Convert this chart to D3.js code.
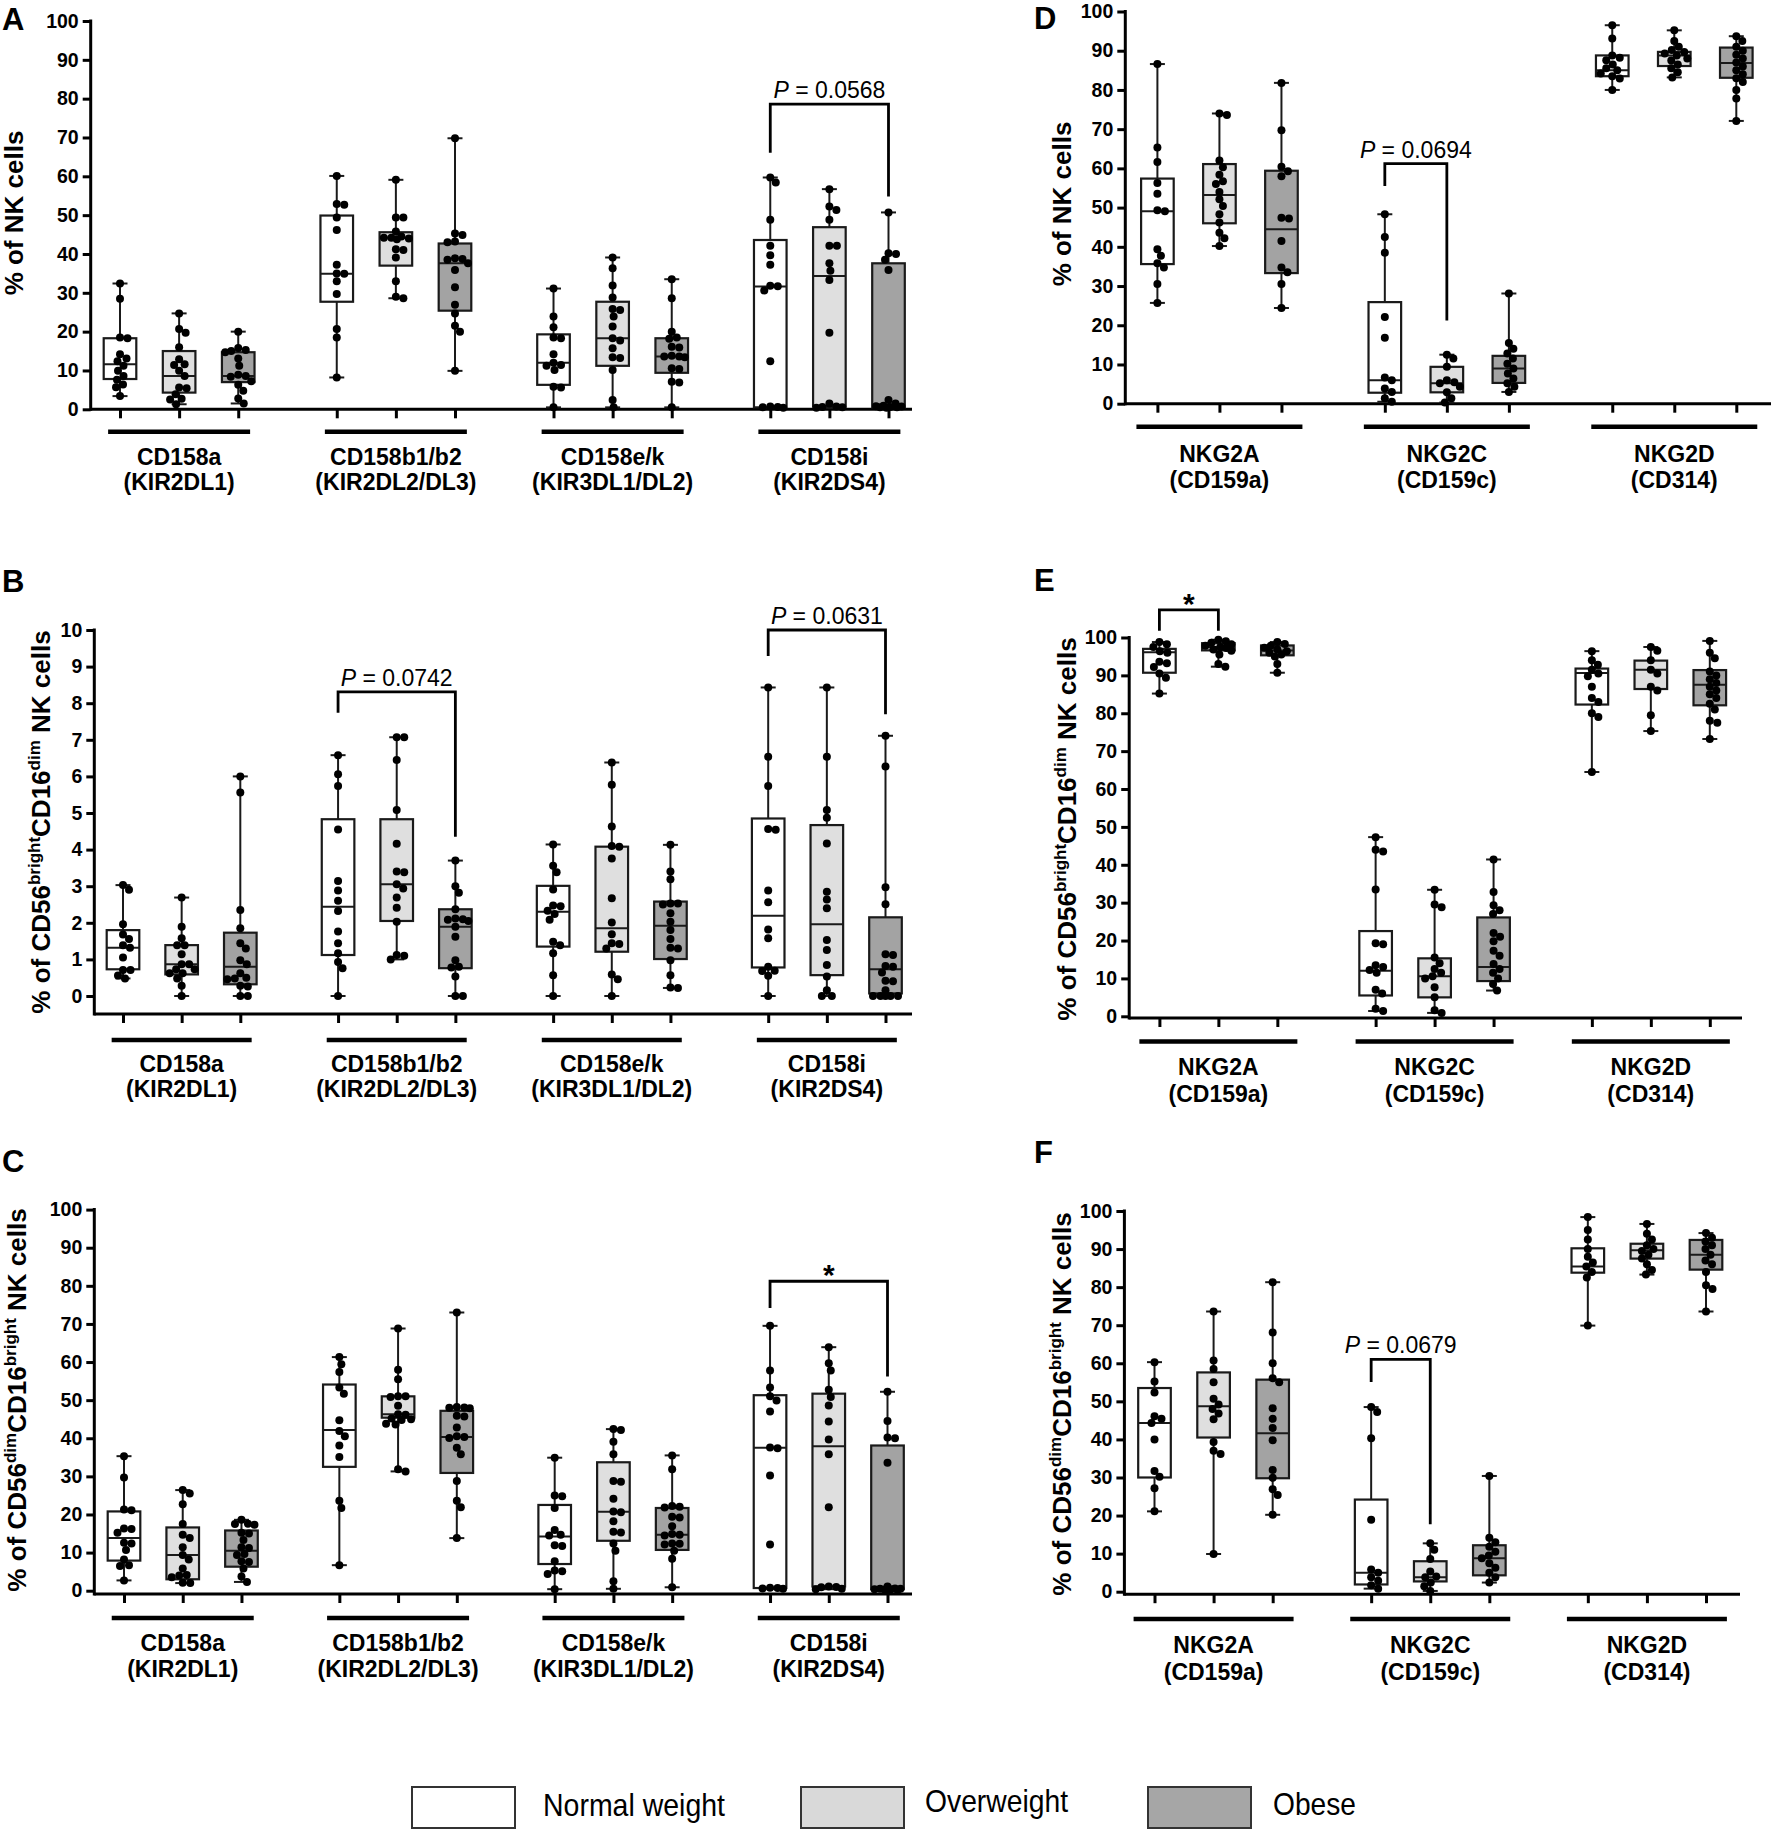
<!DOCTYPE html>
<html><head><meta charset="utf-8">
<script src="https://cdn.jsdelivr.net/npm/d3@7"></script>
<style>
body{margin:0;background:#fff}
svg{display:block}
text{font-family:"Liberation Sans",Arial,Helvetica,sans-serif}
</style></head><body>
<svg id="c" width="1773" height="1837"></svg>
<script>
// ---------------- DATA ----------------
const GROUPS = ["Normal weight", "Overweight", "Obese"];
const FILLS = ["#ffffff", "#dfdfdf", "#a3a3a3"];
const LEGEND_FILLS = ["#ffffff", "#d9d9d9", "#a6a6a6"];
const KIR_CATS = [["CD158a","(KIR2DL1)"],["CD158b1/b2","(KIR2DL2/DL3)"],["CD158e/k","(KIR3DL1/DL2)"],["CD158i","(KIR2DS4)"]];
const NKG_CATS = [["NKG2A","(CD159a)"],["NKG2C","(CD159c)"],["NKG2D","(CD314)"]];
const TICKS_100 = [0,10,20,30,40,50,60,70,80,90,100];
const TICKS_10 = [0,1,2,3,4,5,6,7,8,9,10];

// box quartiles [Q1, median, Q3], order: category x (normal, overweight, obese)
const A_q = [[7.8,11.6,18.3],[4.3,8.6,15.0],[7.0,8.6,14.7],
             [27.7,34.9,49.9],[37.0,44.2,45.6],[25.4,37.6,42.7],
             [6.3,12.0,19.3],[11.2,18.3,27.7],[9.4,13.6,18.3],
             [0.5,31.6,43.6],[0.7,34.3,46.9],[0.5,0.7,37.6]];
const A_pts = [
 [32.4,28.5,18.5,18.3,14.2,13.1,12.4,11.2,9.9,8.6,7.6,6.4,5.7,3.4],
 [24.7,20.7,19.7,16.0,12.9,11.6,11.4,9.9,8.6,5.6,5.4,3.9,2.7,2.5,1.3],
 [20.0,15.8,15.3,15.0,14.7,13.1,11.2,8.9,8.6,8.4,7.2,6.3,4.8,2.8,1.5],
 [60.1,52.9,52.7,49.4,46.2,37.2,35.0,34.9,33.0,29.7,20.7,18.5,8.2],
 [59.1,49.4,49.4,45.8,44.5,44.2,44.2,44.0,43.8,41.2,41.0,39.1,33.0,29.0,28.6],
 [69.8,45.3,44.9,43.2,43.0,38.9,38.7,38.5,37.6,35.9,31.4,26.9,24.7,21.5,20.0,9.9],
 [31.1,23.9,21.1,18.5,18.3,14.2,12.0,11.4,11.2,10.1,5.8,5.6,0.5],
 [39.1,36.3,31.9,28.8,25.8,25.6,23.9,21.3,18.3,17.7,15.7,13.4,13.2,10.1,2.4,0.5],
 [33.5,28.6,20.0,18.5,18.2,16.1,15.9,13.8,13.6,13.6,13.4,10.6,10.4,7.1,6.9,0.5],
 [59.7,58.4,48.8,42.1,39.7,37.2,31.8,31.7,30.6,12.4,0.7,0.6,0.5,0.4],
 [56.7,52.2,51.3,48.8,42.1,42.1,37.6,35.7,33.3,19.7,1.5,0.7,0.6,0.5,0.4],
 [50.7,40.2,40.0,38.5,35.9,2.4,1.5,0.9,0.8,0.7,0.6,0.5,0.5,0.4]];

const B_q = [[0.73,1.32,1.80],[0.59,0.87,1.39],[0.32,0.80,1.73],
             [1.12,2.44,4.83],[2.05,3.05,4.83],[0.76,1.89,2.37],
             [1.35,2.30,3.01],[1.21,1.85,4.08],[1.01,1.92,2.58],
             [0.78,2.19,4.85],[0.57,1.96,4.67],[0.07,0.73,2.15]];
const B_pts = [
 [3.03,2.9,1.96,1.68,1.56,1.39,1.32,1.05,0.71,0.71,0.56,0.48],
 [2.69,1.89,1.58,1.39,1.39,1.14,0.87,0.87,0.73,0.73,0.62,0.62,0.48,0.28,0],
 [6.0,5.56,2.35,1.85,1.44,1.30,0.98,0.87,0.62,0.50,0.48,0.46,0.28,0.26,0,0],
 [6.58,6.06,5.74,4.55,3.14,2.88,2.60,2.32,1.76,1.44,1.17,0.93,0.76,0],
 [7.07,7.07,6.45,5.08,4.16,3.40,3.38,3.05,2.94,2.69,2.41,2.03,1.12,1.10,1.0],
 [3.70,3.0,2.82,2.37,2.12,2.10,2.08,2.05,1.89,1.62,0.98,0.80,0.78,0.53,0,0],
 [4.14,3.56,3.38,2.91,2.47,2.45,2.33,2.24,2.08,1.48,1.39,1.17,0.57,0],
 [6.38,5.77,4.63,4.10,4.08,3.76,2.67,2.01,1.69,1.44,1.42,1.30,0.59,0.46,0],
 [4.13,3.40,3.19,2.53,2.53,2.50,2.26,2.03,1.80,1.56,1.32,1.30,0.98,0.57,0.23,0.22],
 [8.43,6.54,5.74,4.56,4.54,2.88,2.56,1.82,1.58,0.80,0.69,0.68,0.55,0],
 [8.43,6.54,5.08,4.87,4.17,2.85,2.64,2.40,1.53,1.26,0.85,0.53,0.16,0,0],
 [7.11,6.27,2.97,2.51,1.14,1.12,0.82,0.80,0.64,0.42,0.40,0.16,0,0,0,0,0]];

const C_q = [[7.9,13.8,20.8],[3.0,9.4,16.6],[6.3,10.5,15.8],
             [32.5,42.2,54.1],[45.4,46.3,51.0],[30.9,40.3,47.2],
             [7.0,14.2,22.5],[13.1,20.7,33.7],[10.7,14.7,21.7],
             [0.7,37.5,51.3],[1.1,37.9,51.7],[0.4,0.5,38.1]];
const C_pts = [
 [35.3,29.7,21.3,21.1,16.3,16.2,15.2,12.6,12.4,10.7,8.2,6.7,6.5,2.7],
 [26.4,25.5,22.7,17.5,14.7,13.8,11.4,9.4,8.2,5.8,4.1,4.0,3.5,2.1,2.0],
 [18.6,17.6,17.5,17.3,15.2,15.0,13.3,11.4,11.2,9.6,9.4,7.7,7.5,5.8,3.7,2.3],
 [61.3,59.4,57.4,53.3,51.7,44.7,41.9,40.5,38.1,35.1,23.6,21.7,6.7],
 [68.8,58.0,55.5,51.0,51.0,50.8,48.5,46.3,46.2,45.2,45.0,44.8,43.8,43.6,31.9,31.3],
 [73.0,48.2,48.1,48.0,47.9,45.9,45.7,42.8,40.5,40.3,40.1,37.5,35.8,28.8,23.6,21.9,13.8],
 [34.9,25.0,24.8,21.7,15.9,14.7,14.5,11.9,11.7,7.7,5.3,5.1,4.4,0.4],
 [42.4,42.2,39.1,35.8,28.8,28.6,24.1,20.8,20.6,18.2,15.5,15.3,12.4,10.5,2.5,0.5],
 [35.5,31.9,22.2,22.0,21.8,19.4,19.2,16.9,14.9,14.7,14.5,12.4,12.3,12.1,10.5,8.4,0.9],
 [69.5,57.8,53.3,51.0,49.9,47.0,37.6,37.4,30.2,12.1,0.8,0.7,0.6,0.5],
 [63.9,59.7,57.8,52.7,50.8,48.6,44.4,39.7,35.8,21.9,1.1,1.0,0.9,0.5,0.4],
 [52.2,44.5,40.2,40.0,33.6,1.1,0.6,0.5,0.5,0.4,0.4,0.3,0.3,0.2]];

const D_q = [[35.6,49.1,57.4],[46.0,53.2,61.1],[33.3,44.5,59.4],
             [2.8,6.0,25.9],[2.9,5.2,9.4],[5.3,9.0,12.2],
             [83.5,85.0,88.8],[86.1,88.8,89.7],[83.1,86.9,90.8]];
const D_pts = [
 [86.6,65.3,61.6,56.3,53.5,49.3,49.1,39.4,37.7,35.8,34.7,30.5,25.7],
 [74.0,73.6,62.0,60.3,58.4,56.7,56.0,54.0,52.1,50.4,48.3,46.2,43.6,42.2,40.2],
 [81.8,69.7,60.4,59.3,58.0,47.4,47.2,41.5,34.7,33.5,30.5,24.4],
 [48.3,42.5,38.5,22.1,16.8,6.7,6.0,3.9,3.0,1.4,0.5],
 [12.5,11.5,9.4,6.0,5.5,5.2,4.3,2.9,1.4,0.3],
 [28.1,15.5,14.0,12.8,11.5,10.2,9.0,7.7,6.4,5.2,4.3,3.0],
 [96.5,93.1,88.8,88.2,87.6,86.5,85.5,85.0,84.2,83.5,82.9,80.0],
 [95.2,92.5,91.0,90.2,89.7,89.3,88.8,88.0,87.5,86.5,85.5,84.5,83.2],
 [93.7,92.5,91.0,90.0,89.0,88.0,87.0,86.0,85.0,84.0,83.0,82.0,80.0,77.8,72.1]];

const E_q = [[90.7,96.1,97.0],[96.6,97.5,98.5],[95.3,96.6,97.9],
             [5.5,12.0,22.5],[5.0,10.6,15.3],[9.3,13.0,26.1],
             [82.3,90.6,91.8],[86.4,91.5,93.9],[82.1,87.5,91.4]];
const E_pts = [
 [98.8,98.2,97.5,96.4,96.0,93.6,93.2,92.2,90.5,89.4,85.2],
 [99.4,99.0,98.6,98.2,97.8,97.5,97.2,96.8,96.5,95.5,93.0,92.3],
 [98.8,98.3,97.8,97.3,96.8,96.4,96.0,95.5,95.0,93.0,90.7],
 [47.3,44.0,43.5,33.5,19.3,19.0,13.5,13.0,12.2,11.5,7.0,6.0,2.0,1.4],
 [33.4,29.5,28.8,15.5,14.0,12.5,11.5,10.6,10.0,7.7,5.0,1.6,0.9],
 [41.4,32.8,29.3,28.0,27.0,22.0,21.0,19.8,17.3,16.0,13.8,12.5,11.5,10.0,8.5,6.8],
 [96.4,94.0,92.8,91.5,90.5,89.8,87.0,84.0,83.0,80.0,79.0,64.5],
 [97.5,96.5,94.0,91.5,90.5,87.0,86.0,79.5,75.3],
 [99.1,96.0,94.5,91.0,90.0,89.0,88.0,87.0,86.0,85.0,84.0,82.5,81.0,78.0,77.5,73.2]];

const F_q = [[30.0,44.3,53.5],[40.5,48.7,57.6],[29.8,41.6,55.7],
             [1.9,5.0,24.2],[2.7,3.8,8.0],[4.3,8.8,12.2],
             [83.8,85.4,90.2],[87.5,89.7,91.4],[84.6,88.5,92.4]];
const F_pts = [
 [60.3,55.2,52.3,46.1,45.4,44.3,40.0,31.7,30.2,27.2,21.1],
 [73.6,60.7,58.5,55.0,50.7,49.2,48.0,46.8,45.3,39.3,37.0,36.2,9.9],
 [81.3,68.1,60.0,56.1,55.0,48.2,45.4,43.0,39.8,32.0,29.9,26.9,25.4,20.2],
 [48.5,47.2,40.3,18.9,5.8,5.0,3.8,2.9,1.7,0.8],
 [12.7,11.0,8.6,5.3,4.0,3.8,2.4,1.4,0.2],
 [30.4,14.2,13.0,11.8,10.5,9.5,8.8,7.5,6.3,5.0,3.8,2.4],
 [98.4,95.0,92.5,90.0,88.0,86.5,85.4,84.0,82.5,69.9],
 [96.6,94.0,92.5,91.0,90.0,89.5,88.5,87.5,86.0,84.5,83.3],
 [94.2,93.0,92.0,91.0,90.0,88.5,87.0,86.0,84.0,80.5,79.5,73.6]];

// significance brackets: category, from box, to box, bar level, left leg end, right leg end, label
const A_ann = [{g:3,i:0,j:2,line:78.6,l:66.1,r:54.8,p:"0.0568"}];
const B_ann = [{g:1,i:0,j:2,line:8.31,l:7.74,r:4.35,p:"0.0742"},{g:3,i:0,j:2,line:10.0,l:9.29,r:7.70,p:"0.0631"}];
const C_ann = [{g:3,i:0,j:2,line:81.2,l:74.2,r:56.2,star:true}];
const D_ann = [{g:1,i:0,j:1,line:61.2,l:55.5,r:21.2,p:"0.0694"}];
const E_ann = [{g:0,i:0,j:1,line:107.3,l:101.8,r:101.8,star:true}];
const F_ann = [{g:1,i:0,j:1,line:61.0,l:55.1,r:17.7,p:"0.0679"}];

const TITLE_NK = [["% of NK cells",0]];
const TITLE_BRIGHT = [["% of CD56",0],["bright",1],["CD16",0],["dim",1],[" NK cells",0]];
const TITLE_DIM = [["% of CD56",0],["dim",1],["CD16",0],["bright",1],[" NK cells",0]];

// ---------------- LAYOUT ----------------
const panels = [
 {id:"A",q:A_q,pts:A_pts,cats:KIR_CATS,ann:A_ann,title:TITLE_NK,yMax:100,ticks:TICKS_100,
  y0:409.3,y1:21,axisX:90.7,xAxisY:409.3,xEnd:912,xr:[120,888.5],barY:431.7,barHalf:71,lab:[465,490],letter:[2,30],tX:23,tY:213},
 {id:"B",q:B_q,pts:B_pts,cats:KIR_CATS,ann:B_ann,title:TITLE_BRIGHT,yMax:10,ticks:TICKS_10,
  y0:996,y1:630,axisX:94.3,xAxisY:1014,xEnd:912,xr:[123,885.5],barY:1040,barHalf:70,lab:[1072,1097],letter:[2,592],tX:50,tY:822},
 {id:"C",q:C_q,pts:C_pts,cats:KIR_CATS,ann:C_ann,title:TITLE_DIM,yMax:100,ticks:TICKS_100,
  y0:1590.7,y1:1209.6,axisX:94.3,xAxisY:1594,xEnd:912,xr:[124,887.5],barY:1618,barHalf:71,lab:[1651,1677],letter:[2,1172],tX:26,tY:1400},
 {id:"D",q:D_q,pts:D_pts,cats:NKG_CATS,ann:D_ann,title:TITLE_NK,yMax:100,ticks:TICKS_100,
  y0:403.7,y1:11.5,axisX:1125.3,xAxisY:403.7,xEnd:1771,xr:[1157.4,1736.3],barY:426.7,barHalf:83,lab:[462,488],letter:[1034,29],tX:1071,tY:204},
 {id:"E",q:E_q,pts:E_pts,cats:NKG_CATS,ann:E_ann,title:TITLE_BRIGHT,yMax:100,ticks:TICKS_100,
  y0:1016.3,y1:637.5,axisX:1129.2,xAxisY:1018,xEnd:1742,xr:[1159.4,1709.8],barY:1041.4,barHalf:79,lab:[1075,1102],letter:[1034,591],tX:1076,tY:829},
 {id:"F",q:F_q,pts:F_pts,cats:NKG_CATS,ann:F_ann,title:TITLE_DIM,yMax:100,ticks:TICKS_100,
  y0:1591.7,y1:1211,axisX:1124.4,xAxisY:1594.2,xEnd:1740,xr:[1154.5,1706],barY:1619,barHalf:80,lab:[1653,1680],letter:[1034,1163],tX:1071,tY:1404}
];

const svg = d3.select("#c");
const BOXW = 32.6, CAPW = 15, R = 4, MIND = 7.4, MAXDX = 13;
const INK = "#1a1a1a";
const pos = (gi, i) => gi * 11 / 3 + i;

// simple deterministic beeswarm, spread capped to the box width
function swarm(vals, y) {
  const placed = [];
  return vals.map(v => {
    const py = y(v);
    let best = 0, bestD = -1;
    for (let k = 0; k <= MAXDX * 4; k++) {
      const c = k === 0 ? 0 : (k % 2 ? 1 : -1) * Math.ceil(k / 2) * 0.5;
      const d = placed.length ? d3.min(placed, p => Math.hypot(p.x - c, p.y - py)) : Infinity;
      if (d >= MIND) { best = c; bestD = d; break; }
      if (d > bestD + 0.01) { bestD = d; best = c; }
    }
    placed.push({x: best, y: py});
    return {dx: best, py};
  });
}

panels.forEach(P => {
  const g = svg.append("g");
  const y = d3.scaleLinear().domain([0, P.yMax]).range([P.y0, P.y1]);
  const nCat = P.cats.length;
  const x = d3.scaleLinear().domain([0, pos(nCat - 1, 2)]).range(P.xr);

  // panel letter
  g.append("text").attr("x", P.letter[0]).attr("y", P.letter[1])
    .attr("font-size", 31).attr("font-weight", "bold").text(P.id);

  // y axis
  const ya = d3.axisLeft(y).tickValues(P.ticks).tickSize(8).tickPadding(4).tickFormat(d3.format("d"));
  const yg = g.append("g").attr("transform", `translate(${P.axisX},0)`).call(ya);
  yg.select(".domain").remove();
  yg.selectAll(".tick line").attr("stroke", "#000").attr("stroke-width", 3);
  yg.selectAll(".tick text").attr("font-size", 19.5).attr("font-weight", "bold").attr("fill", "#000")
    .attr("font-family", '"Liberation Sans",Arial,sans-serif');
  g.append("line").attr("x1", P.axisX).attr("x2", P.axisX)
    .attr("y1", y(P.yMax) - 1.5).attr("y2", P.xAxisY + 1.5).attr("stroke", "#000").attr("stroke-width", 3);

  // x axis
  g.append("line").attr("x1", P.axisX).attr("x2", P.xEnd).attr("y1", P.xAxisY).attr("y2", P.xAxisY)
    .attr("stroke", "#000").attr("stroke-width", 3);
  const allPos = [];
  P.cats.forEach((c, gi) => GROUPS.forEach((s, i) => allPos.push(pos(gi, i))));
  const xa = d3.axisBottom(x).tickValues(allPos).tickSize(9).tickFormat("");
  const xg = g.append("g").attr("transform", `translate(0,${P.xAxisY})`).call(xa);
  xg.select(".domain").remove();
  xg.selectAll(".tick line").attr("stroke", "#000").attr("stroke-width", 3);

  // category bars and labels
  P.cats.forEach((c, gi) => {
    const cx = x(pos(gi, 1));
    g.append("line").attr("x1", cx - P.barHalf).attr("x2", cx + P.barHalf)
      .attr("y1", P.barY).attr("y2", P.barY).attr("stroke", "#000").attr("stroke-width", 4.5);
    c.forEach((t, li) => g.append("text").attr("x", cx).attr("y", P.lab[li])
      .attr("text-anchor", "middle").attr("font-size", 23).attr("font-weight", "bold").text(t));
  });

  // y title
  const tt = g.append("text").attr("transform", `translate(${P.tX},${P.tY}) rotate(-90)`)
    .attr("text-anchor", "middle").attr("font-size", 26).attr("font-weight", "bold");
  let prevSup = 0;
  P.title.forEach(([s, sup]) => {
    const ts = tt.append("tspan").text(s);
    if (sup) { ts.attr("font-size", 17).attr("dy", prevSup ? 0 : -10); }
    else if (prevSup) { ts.attr("dy", 10); }
    prevSup = sup;
  });

  // boxes
  P.q.forEach((qq, k) => {
    const gi = Math.floor(k / 3), i = k % 3;
    const cx = x(pos(gi, i));
    const vals = P.pts[k];
    const mn = d3.min(vals), mx = d3.max(vals);
    const bg = g.append("g");
    bg.append("line").attr("x1", cx).attr("x2", cx).attr("y1", y(mx)).attr("y2", y(mn))
      .attr("stroke", INK).attr("stroke-width", 2);
    [mn, mx].forEach(v => bg.append("line").attr("x1", cx - CAPW / 2).attr("x2", cx + CAPW / 2)
      .attr("y1", y(v)).attr("y2", y(v)).attr("stroke", INK).attr("stroke-width", 2));
    bg.append("rect").attr("x", cx - BOXW / 2).attr("width", BOXW)
      .attr("y", y(qq[2])).attr("height", Math.max(0.5, y(qq[0]) - y(qq[2])))
      .attr("fill", FILLS[i]).attr("stroke", INK).attr("stroke-width", 2.2);
    bg.append("line").attr("x1", cx - BOXW / 2).attr("x2", cx + BOXW / 2)
      .attr("y1", y(qq[1])).attr("y2", y(qq[1])).attr("stroke", INK).attr("stroke-width", 2);
    swarm(vals, y).forEach(p => bg.append("circle").attr("cx", cx + p.dx).attr("cy", p.py)
      .attr("r", R).attr("fill", "#000"));
  });

  // annotations
  P.ann.forEach(a => {
    const xl = x(pos(a.g, a.i)), xr = x(pos(a.g, a.j));
    g.append("path").attr("d", `M${xl},${y(a.l)}V${y(a.line)}H${xr}V${y(a.r)}`)
      .attr("fill", "none").attr("stroke", "#000").attr("stroke-width", 2.8);
    const mx = (xl + xr) / 2;
    if (a.star) {
      g.append("text").attr("x", mx).attr("y", y(a.line) + 4).attr("text-anchor", "middle")
        .attr("font-size", 30).attr("font-weight", "bold").text("*");
    } else {
      const t = g.append("text").attr("x", mx).attr("y", y(a.line) - 6).attr("text-anchor", "middle")
        .attr("font-size", 23);
      t.append("tspan").attr("font-style", "italic").text("P");
      t.append("tspan").text(" = " + a.p);
    }
  });
});

// legend
const LEG_X = [412, 801, 1148];
const LEG_TX = [543, 925, 1273];
const LEG_TY = [1816, 1812, 1815];
const LEG_TL = [182, 143, 83];
GROUPS.forEach((name, i) => {
  svg.append("rect").attr("x", LEG_X[i]).attr("y", 1787).attr("width", 103).attr("height", 41)
    .attr("fill", LEGEND_FILLS[i]).attr("stroke", "#333").attr("stroke-width", 2);
  svg.append("text").attr("x", LEG_TX[i]).attr("y", LEG_TY[i]).attr("font-size", 32)
    .attr("textLength", LEG_TL[i]).attr("lengthAdjust", "spacingAndGlyphs").text(name);
});
</script>
</body></html>
